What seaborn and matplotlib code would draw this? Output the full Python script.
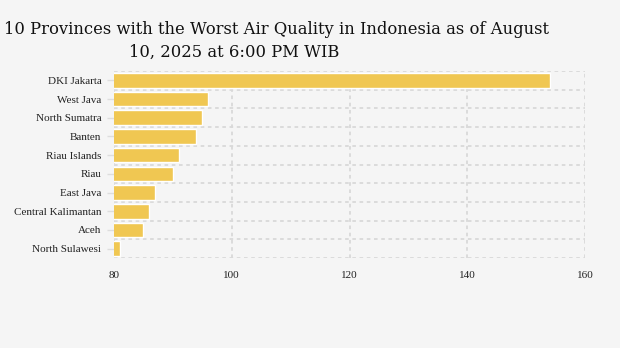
import matplotlib
matplotlib.use("Agg")
import matplotlib.pyplot as plt
import seaborn as sns
import pandas as pd
import numpy as np

provinces = ["DKI Jakarta", "West Java", "North Sumatra", "Banten", "Riau Islands",
             "Riau", "East Java", "Central Kalimantan", "Aceh", "North Sulawesi"]
values = [154, 96, 95, 94, 91, 90, 87, 86, 85, 81]
x_ticks = [80, 100, 120, 140, 160]

title_line1 = "10 Provinces with the Worst Air Quality in Indonesia as of August"
title_line2 = "10, 2025 at 6:00 PM WIB"

df = pd.DataFrame({"province": provinces, "value": values})

bg = "#F5F5F5"
sns.set_theme(style="white")
plt.rcParams["font.family"] = ["Liberation Serif", "DejaVu Serif"]

fig = plt.figure(figsize=(6.2, 3.48), dpi=100, facecolor=bg)
ax = fig.add_axes([114/620, 1-258/348, (585-114)/620, (258-71)/348])
ax.set_facecolor(bg)

sns.barplot(data=df, x="value", y="province", orient="h", color="#F0C752",
            saturation=1, width=0.78, ax=ax)

ax.set_xlim(80, 160)
ax.set_ylim(len(provinces) - 0.5, -0.5)
ax.set_xticks(x_ticks)
ax.set_xticklabels([str(t) for t in x_ticks], fontsize=8, color="#222222")
ax.set_yticks(range(len(provinces)))
ax.set_yticklabels(provinces, fontsize=8, color="#222222")
ax.set_yticks(np.arange(-0.5, len(provinces)), minor=True)
ax.tick_params(axis="y", which="major", length=5, width=1, color="#dddddd", pad=4, left=True)
ax.tick_params(axis="y", which="minor", length=0)
ax.tick_params(axis="x", length=0, pad=9)
ax.set_xlabel("")
ax.set_ylabel("")
for s in ax.spines.values():
    s.set_visible(False)
ax.set_axisbelow(True)
grid_kw = dict(linestyle=(0, (2, 2)), color="#d9d9d9", linewidth=1.3)
ax.grid(True, axis="x", which="major", **grid_kw)
ax.grid(True, axis="y", which="minor", **grid_kw)
ax.grid(False, axis="y", which="major")
ax.axvline(80, zorder=0, **grid_kw)

fig.text(277/620, 1-30/348, title_line1, ha="center", va="center",
         fontsize=11.8, family="DejaVu Serif", color="#111111")
fig.text(234/620, 1-52/348, title_line2, ha="center", va="center",
         fontsize=11.8, family="DejaVu Serif", color="#111111")

fig.savefig("out.png", dpi=100, facecolor=bg)
